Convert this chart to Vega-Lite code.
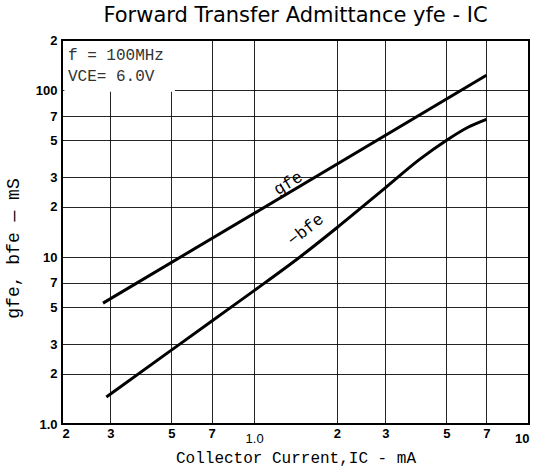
{
  "$schema": "https://vega.github.io/schema/vega-lite/v6.json",
  "width": 467,
  "height": 384,
  "autosize": "none",
  "padding": {"left": 62, "top": 40, "right": 8, "bottom": 46},
  "background": "white",
  "title": {
    "text": "Forward Transfer Admittance yfe - IC",
    "font": "DejaVu Sans",
    "fontSize": 21,
    "fontWeight": "normal",
    "color": "black",
    "anchor": "middle",
    "offset": 8
  },
  "config": {
    "view": {"stroke": "black", "strokeWidth": 2},
    "axis": {
      "domain": false,
      "ticks": false,
      "grid": true,
      "gridColor": "black",
      "gridWidth": 1,
      "gridOpacity": 0.85,
      "labelFont": "Liberation Sans",
      "labelFontWeight": "bold",
      "labelFontSize": 13,
      "labelColor": "black",
      "titleFont": "Liberation Mono",
      "titleFontWeight": "normal",
      "titleFontSize": 16,
      "titleColor": "black"
    }
  },
  "encoding": {
    "x": {
      "field": "ic", "type": "quantitative",
      "scale": {"type": "log", "domain": [0.2, 10]},
      "axis": {
        "values": [0.2, 0.3, 0.5, 0.7, 1, 2, 3, 5, 7, 10],
        "labelExpr": "datum.value == 1 ? '1.0' : datum.value == 10 ? '10' : datum.value < 1 ? format(datum.value * 10, 'd') : format(datum.value, 'd')",
        "labelPadding": {"condition": {"test": "datum.value == 1 || datum.value == 10", "value": 8}, "value": 3},
        "labelFontWeight": {"condition": {"test": "datum.value == 1", "value": "normal"}, "value": "bold"},
        "title": "Collector Current,IC - mA",
        "titlePadding": 4
      }
    },
    "y": {
      "field": "v", "type": "quantitative",
      "scale": {"type": "log", "domain": [1, 200]},
      "axis": {
        "values": [1, 2, 3, 5, 7, 10, 20, 30, 50, 70, 100, 200],
        "labelExpr": "datum.value == 1 ? '1.0' : datum.value == 10 ? '10' : datum.value == 100 ? '100' : datum.value > 100 ? format(datum.value / 100, 'd') : datum.value > 10 ? format(datum.value / 10, 'd') : format(datum.value, 'd')",
        "labelPadding": 5,
        "title": "gfe, bfe — mS",
        "titleFontSize": 18,
        "titleX": -40,
        "titleY": 208,
        "titleAngle": -90
      }
    }
  },
  "layer": [
    {
      "data": {"values": [{"ic": 0.204, "ic2": 0.515, "v": 98, "v2": 197}]},
      "mark": {"type": "rect", "color": "white"},
      "encoding": {
        "x2": {"field": "ic2"},
        "y2": {"field": "v2"}
      }
    },
    {
      "data": {"values": [
        {"series": "gfe", "ic": 0.282, "v": 5.3},
        {"series": "gfe", "ic": 7.0, "v": 123},
        {"series": "bfe", "ic": 0.29, "v": 1.45},
        {"series": "bfe", "ic": 0.5, "v": 2.77},
        {"series": "bfe", "ic": 0.7, "v": 4.13},
        {"series": "bfe", "ic": 1.0, "v": 6.3},
        {"series": "bfe", "ic": 1.5, "v": 10.3},
        {"series": "bfe", "ic": 2.0, "v": 15.0},
        {"series": "bfe", "ic": 3.0, "v": 26.0},
        {"series": "bfe", "ic": 4.0, "v": 38.5},
        {"series": "bfe", "ic": 5.0, "v": 50.0},
        {"series": "bfe", "ic": 6.0, "v": 60.0},
        {"series": "bfe", "ic": 7.0, "v": 67.0}
      ]},
      "mark": {"type": "line", "color": "black", "strokeWidth": 3, "interpolate": "monotone"},
      "encoding": {
        "detail": {"field": "series"}
      }
    },
    {
      "data": {"values": [
        {"label": "gfe", "ic": 1.33, "v": 27.7, "ang": -31},
        {"label": "−bfe", "ic": 1.54, "v": 14.6, "ang": -38}
      ]},
      "mark": {"type": "text", "font": "Liberation Mono", "fontSize": 17, "color": "black"},
      "encoding": {
        "text": {"field": "label"},
        "angle": {"field": "ang", "type": "quantitative", "scale": null}
      }
    },
    {
      "data": {"values": [
        {"label": "f = 100MHz", "ic": 0.2102, "v": 162},
        {"label": "VCE= 6.0V", "ic": 0.2102, "v": 121}
      ]},
      "mark": {"type": "text", "font": "Liberation Mono", "fontSize": 16, "color": "#333", "align": "left"},
      "encoding": {
        "text": {"field": "label"}
      }
    }
  ]
}
